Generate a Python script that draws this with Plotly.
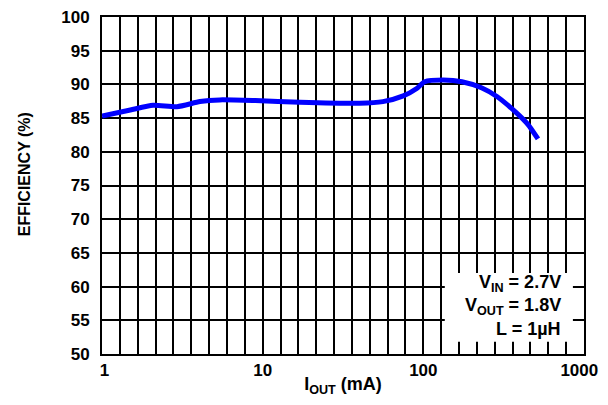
import plotly.graph_objects as go

iout_ma = [1.0, 1.5, 2.08, 2.93, 4.07, 5.4, 9.0, 17, 40, 56, 75, 91, 102, 133, 174, 230, 287, 383, 450, 517]
efficiency = [85.3, 86.2, 86.9, 86.7, 87.45, 87.7, 87.6, 87.35, 87.2, 87.45, 88.3, 89.4, 90.4, 90.65, 90.4, 89.5, 88.2, 85.7, 84.0, 81.9]

x_ticks = [1, 10, 100, 1000]
x_ticklabels = ["\u00a01", "10", "100", "1000\u00a0\u00a0"]
# evenly spaced vertical grid: 9 columns per decade
x_grid = [10 ** (k / 9) for k in range(1, 27) if k % 9 != 0]
y_ticks = [50, 55, 60, 65, 70, 75, 80, 85, 90, 95, 100]
y_ticklabels = [str(v) for v in y_ticks]

notes = ["V<sub>IN</sub> = 2.7V", "V<sub>OUT</sub> = 1.8V", "L = 1µH"]
note_y = [60.5, 57.1, 53.7]
note_x_log = 2.87

FONT = "Liberation Sans, Arial, sans-serif"
BOLD = dict(family=FONT, color="black", weight=700)

fig = go.Figure()
fig.add_trace(go.Scatter(x=iout_ma, y=efficiency, mode="lines",
                         line=dict(color="#0000ff", width=5, shape="spline", smoothing=0.6),
                         showlegend=False))

fig.add_shape(type="rect", xref="x", yref="y", x0=136, x1=853, y0=51.8, y1=62,
              fillcolor="white", line=dict(width=0), layer="above")

for t, yy in zip(notes, note_y):
    fig.add_annotation(x=note_x_log, y=yy, xref="x", yref="y", text=t, showarrow=False,
                       xanchor="right", yanchor="middle",
                       font=dict(BOLD, size=18))

# y-axis title
fig.add_annotation(x=-0.162, y=0.533, xref="paper", yref="paper", text="EFFICIENCY (%)",
                   textangle=-90, showarrow=False, xanchor="center", yanchor="middle",
                   font=dict(BOLD, size=16))

fig.update_layout(
    width=600, height=389,
    margin=dict(l=94, r=24, t=9, b=43, autoexpand=False),
    paper_bgcolor="white", plot_bgcolor="white",
    font=dict(BOLD, size=17),
    xaxis=dict(type="log", range=[0, 3], tickvals=x_ticks, ticktext=x_ticklabels,
               showgrid=True, gridcolor="black", gridwidth=2,
               minor=dict(tickvals=x_grid, showgrid=True, gridcolor="black", gridwidth=2),
               showline=True, linecolor="black", linewidth=2, mirror=True,
               ticks="", ticklabelstandoff=0, zeroline=False, automargin=False,
               ticklabeloverflow="allow",
               tickfont=dict(BOLD, size=17),
               title=dict(text="I<sub>OUT</sub> (mA)", font=dict(BOLD, size=18), standoff=4)),
    yaxis=dict(range=[50, 100], tickvals=y_ticks, ticktext=y_ticklabels,
               showgrid=True, gridcolor="black", gridwidth=2,
               showline=True, linecolor="black", linewidth=2, mirror=True,
               ticks="", ticklabelstandoff=7, zeroline=False, automargin=False,
               ticklabeloverflow="allow",
               tickfont=dict(BOLD, size=17)),
)

fig.write_html("out.html")
